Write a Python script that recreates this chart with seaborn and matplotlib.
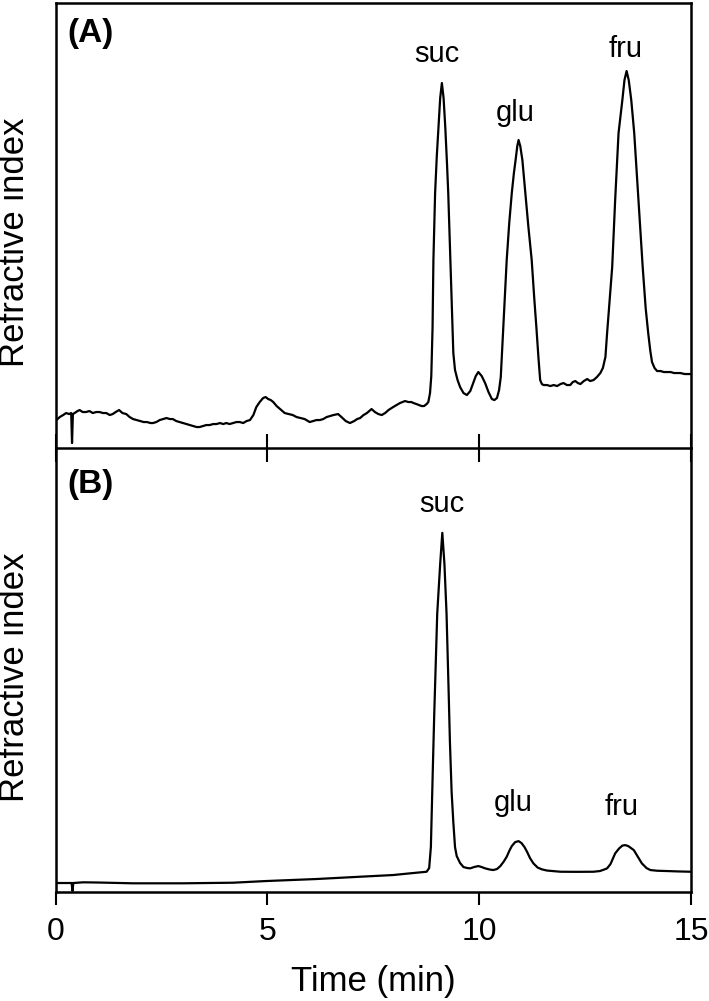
import numpy as np
import pandas as pd
import matplotlib
matplotlib.use('Agg')
import matplotlib.pyplot as plt
import seaborn as sns

# chromatogram (A): time (min) and detector signal (arbitrary units)
TIME_A = [0.00, 0.05, 0.10, 0.18, 0.25, 0.32, 0.37, 0.39, 0.41, 0.45, 0.52, 0.57, 0.64, 0.72, 0.80,
          0.88, 0.96, 1.04, 1.12, 1.20, 1.28, 1.35, 1.42, 1.50, 1.58, 1.67, 1.75, 1.83, 1.92, 2.00,
          2.08, 2.16, 2.24, 2.30, 2.38, 2.46, 2.54, 2.62, 2.70, 2.77, 2.85, 2.93, 3.01, 3.09, 3.17,
          3.25, 3.33, 3.40, 3.48, 3.56, 3.64, 3.72, 3.80, 3.88, 3.96, 4.03, 4.11, 4.19, 4.27, 4.35,
          4.43, 4.51, 4.59, 4.67, 4.74, 4.82, 4.90, 4.96, 5.02, 5.08, 5.14, 5.22, 5.30, 5.41, 5.50,
          5.60, 5.69, 5.78, 5.88, 6.00, 6.08, 6.16, 6.24, 6.32, 6.40, 6.48, 6.56, 6.67, 6.75, 6.85,
          6.95, 7.05, 7.12, 7.19, 7.27, 7.35, 7.46, 7.54, 7.62, 7.70, 7.78, 7.86, 7.97, 8.05, 8.13,
          8.25, 8.33, 8.40, 8.45, 8.52, 8.58, 8.64, 8.70, 8.76, 8.80, 8.84, 8.87, 8.90, 8.92, 8.96,
          9.00, 9.04, 9.08, 9.12, 9.16, 9.20, 9.24, 9.27, 9.32, 9.37, 9.39, 9.43, 9.49, 9.55, 9.63,
          9.71, 9.79, 9.86, 9.92, 9.98, 10.06, 10.14, 10.22, 10.30, 10.36, 10.42, 10.47, 10.51, 10.54, 10.57,
          10.61, 10.65, 10.71, 10.77, 10.82, 10.86, 10.90, 10.93, 10.97, 11.02, 11.09, 11.16, 11.24, 11.30, 11.35,
          11.40, 11.44, 11.48, 11.52, 11.60, 11.68, 11.76, 11.84, 11.92, 11.99, 12.07, 12.15, 12.21, 12.27, 12.33,
          12.39, 12.47, 12.55, 12.62, 12.70, 12.78, 12.86, 12.92, 12.98, 13.02, 13.08, 13.14, 13.21, 13.29, 13.38,
          13.43, 13.48, 13.53, 13.59, 13.66, 13.76, 13.86, 13.93, 13.99, 14.04, 14.08, 14.14, 14.20, 14.28, 14.36,
          14.44, 14.52, 14.60, 14.68, 14.75, 14.85, 15.00]
SIGNAL_A = [27, 29, 31, 33, 35, 34, 35, 5, 34, 35, 37, 38, 36, 36, 37,
            35, 36, 36, 35, 35, 33, 34, 36, 38, 35, 34, 31, 29, 28, 27,
            26, 26, 25, 25, 26, 28, 29, 30, 29, 29, 27, 26, 25, 24, 23,
            22, 21, 21, 22, 23, 23, 24, 24, 25, 24, 25, 24, 25, 26, 26,
            25, 27, 28, 33, 41, 46, 50, 51, 49, 48, 46, 42, 39, 35, 34,
            33, 31, 30, 29, 26, 27, 28, 28, 29, 31, 32, 33, 34, 31, 27,
            25, 27, 29, 30, 33, 35, 39, 36, 34, 33, 35, 38, 41, 43, 45,
            47, 46, 46, 45, 44, 43, 42, 42, 44, 46, 55, 72, 121, 188, 255,
            292, 321, 350, 365, 350, 321, 285, 255, 188, 121, 95, 78, 68, 61, 55,
            53, 57, 65, 72, 76, 72, 65, 56, 49, 48, 50, 58, 71, 95, 121,
            155, 188, 225, 255, 275, 288, 302, 308, 302, 288, 255, 222, 188, 150, 121,
            90, 68, 64, 63, 63, 62, 63, 62, 64, 65, 63, 63, 66, 67, 65,
            64, 67, 69, 67, 68, 71, 75, 80, 91, 115, 148, 181, 248, 315, 348,
            368, 377, 368, 348, 315, 248, 181, 140, 115, 97, 86, 80, 77, 77, 76,
            76, 76, 75, 75, 75, 74, 74]

# chromatogram (B)
TIME_B = [0.00, 0.38, 0.40, 0.42, 0.65, 1.00, 1.83, 3.00, 4.19, 4.98, 6.16, 7.19, 7.97, 8.37, 8.76,
          8.82, 8.86, 8.88, 8.91, 8.94, 9.01, 9.08, 9.13, 9.18, 9.23, 9.28, 9.31, 9.35, 9.39, 9.43,
          9.47, 9.55, 9.63, 9.72, 9.79, 9.88, 9.98, 10.06, 10.14, 10.25, 10.33, 10.42, 10.50, 10.58, 10.65,
          10.72, 10.77, 10.85, 10.93, 11.00, 11.07, 11.13, 11.20, 11.28, 11.38, 11.48, 11.60, 11.92, 12.30, 12.70,
          12.85, 12.95, 13.02, 13.10, 13.21, 13.30, 13.38, 13.45, 13.52, 13.65, 13.75, 13.84, 13.95, 14.04, 14.20,
          14.43, 14.70, 15.00]
SIGNAL_B = [9, 9, 1, 9, 9.7, 9.5, 8.7, 8.7, 9.3, 11, 13, 15.3, 17, 18.7, 20.3,
            24, 45, 79, 130, 179, 279, 329, 360, 329, 279, 200, 150, 100, 70, 45,
            36, 29, 25, 24, 23.7, 25, 26, 25, 23.7, 22.5, 22, 23, 26, 30.5, 35.3,
            42, 46, 50, 51, 49, 45, 40.3, 34, 28.7, 24.5, 22.7, 21.5, 20.3, 20.2, 20.3,
            21, 22.5, 23.7, 28, 38.7, 43.5, 46.5, 47, 46, 42, 35, 28.7, 24, 22, 21.3,
            21, 20.6, 20.3]

PEAK_NAMES = ['suc', 'glu', 'fru']
PEAK_POS_A = [(9.0, 386), (10.85, 327), (13.45, 391)]
PEAK_POS_B = [(9.12, 381), (10.81, 81), (13.37, 77)]

sns.set_style('ticks')
plt.rcParams['font.family'] = ['Liberation Sans', 'DejaVu Sans']
plt.rcParams['text.color'] = 'black'
plt.rcParams['axes.labelcolor'] = 'black'
plt.rcParams['xtick.color'] = 'black'

df_a = pd.DataFrame({'time': TIME_A, 'signal': SIGNAL_A})
df_b = pd.DataFrame({'time': TIME_B, 'signal': SIGNAL_B})

fig = plt.figure(figsize=(7.09, 10.01), dpi=100)
ax_a = fig.add_axes([0.0783, 0.5524, 0.8963, 0.4446])
ax_b = fig.add_axes([0.0783, 0.1089, 0.8963, 0.4435])
ax_b.patch.set_visible(False)

sns.lineplot(data=df_a, x='time', y='signal', ax=ax_a, color='black', linewidth=1.6,
             estimator=None, sort=False)
sns.lineplot(data=df_b, x='time', y='signal', ax=ax_b, color='black', linewidth=1.6,
             estimator=None, sort=False)

for ax in (ax_a, ax_b):
    ax.set_xlim(0, 15)
    ax.set_ylim(0, 445)
    ax.set_xticks([0, 5, 10, 15])
    ax.set_yticks([])
    ax.set_ylabel('Refractive index', fontsize=25, color='black')
    ax.yaxis.label.set_va('center')
    for s in ax.spines.values():
        s.set_linewidth(1.8)
        s.set_color('black')

ax_a.tick_params(axis='x', direction='inout', length=20, width=1.5, color='black', labelbottom=False)
ax_a.set_xlabel('')
ax_a.yaxis.set_label_coords(-0.064, 0.463)

ax_b.spines['top'].set_visible(False)
ax_b.tick_params(axis='x', direction='out', length=9, width=1.5, color='black', labelcolor='black',
                 labelsize=23, pad=9)
ax_b.set_xlabel('Time (min)', fontsize=25, labelpad=13, color='black')
ax_b.yaxis.set_label_coords(-0.064, 0.484)

for name, (x, y) in zip(PEAK_NAMES, PEAK_POS_A):
    ax_a.text(x, y, name, fontsize=21, ha='center', va='baseline', color='black')
for name, (x, y) in zip(PEAK_NAMES, PEAK_POS_B):
    ax_b.text(x, y, name, fontsize=21, ha='center', va='baseline', color='black')

ax_a.text(0.28, 415, '(A)', fontsize=24, fontweight='bold', ha='left', va='center', color='black')
ax_b.text(0.28, 408, '(B)', fontsize=24, fontweight='bold', ha='left', va='center', color='black')

fig.savefig('out.png', dpi=100)
